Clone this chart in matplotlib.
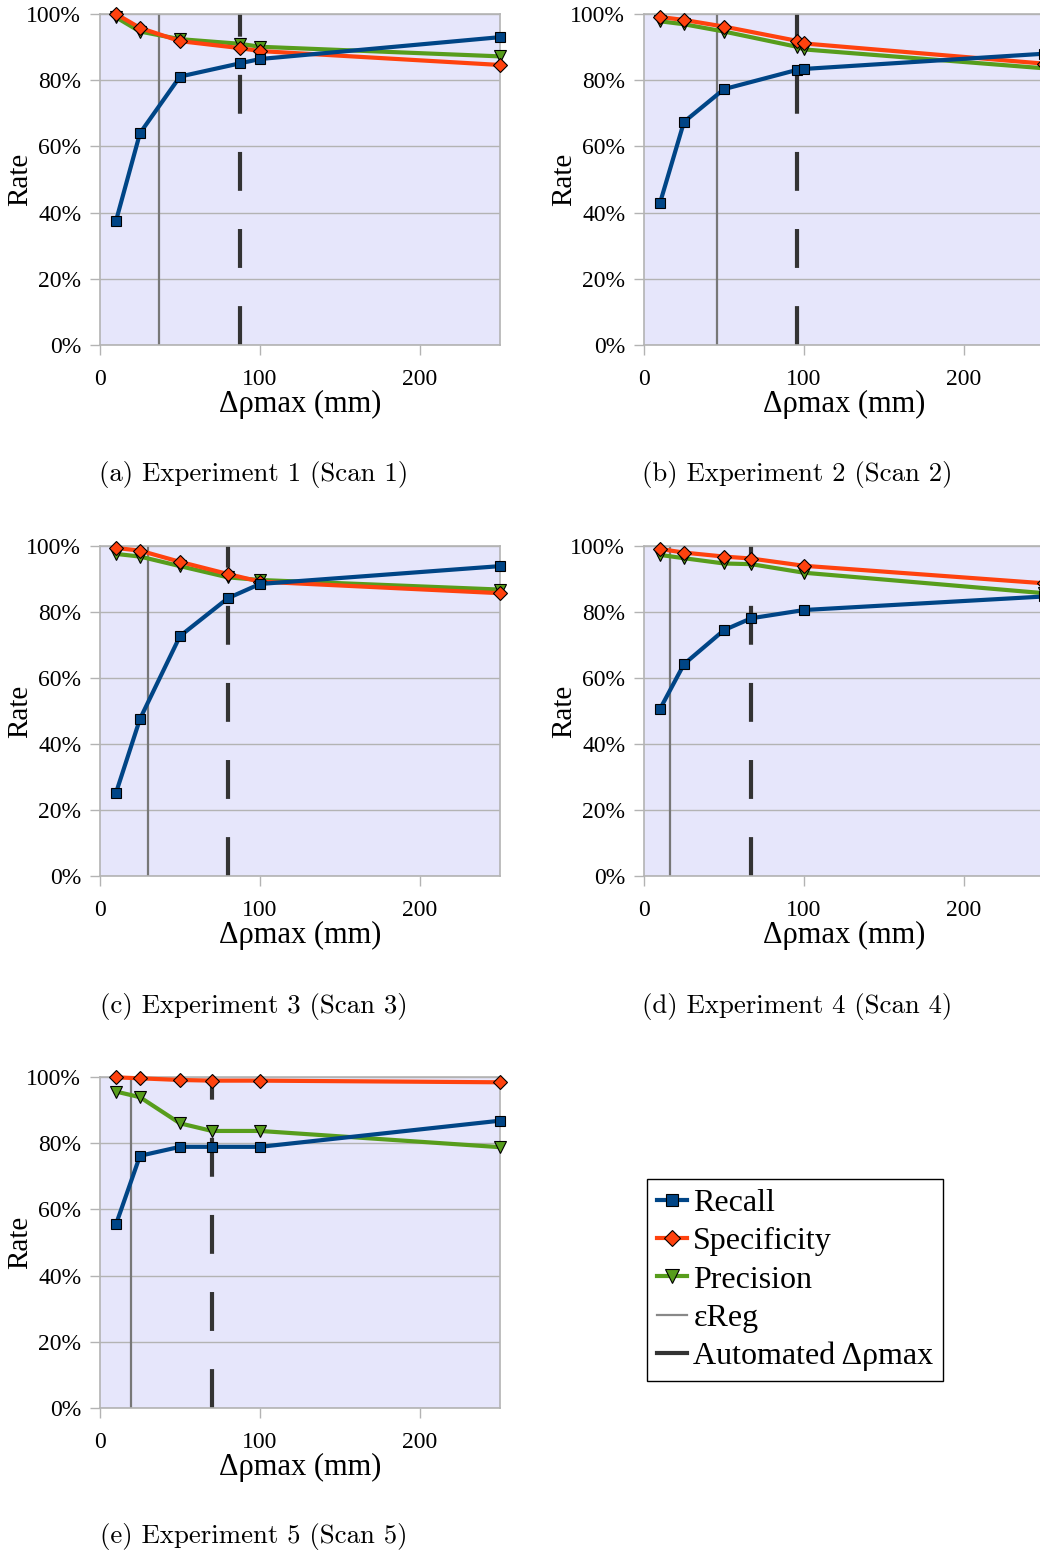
import matplotlib
matplotlib.use("Agg")
import matplotlib.pyplot as plt
from matplotlib.lines import Line2D
from matplotlib.ticker import FuncFormatter

plt.rcParams['lines.scale_dashes'] = False

# ---------------- data ----------------
x_common = [10, 25, 50, 100, 250]
auto_dpmax = [87.5, 95.5, 80, 67, 70]          # automated Δρmax per experiment
ereg = [37, 45.5, 30, 16, 19.6]                 # εReg per experiment

recall = [
    [37.5, 64, 81.1, 85.1, 86.4, 93.0],
    [42.9, 67.4, 77.3, 83.1, 83.4, 88.0],
    [25.2, 47.6, 72.7, 84.2, 88.5, 93.9],
    [50.6, 64.2, 74.5, 78.1, 80.6, 84.7],
    [55.5, 76.2, 78.9, 78.9, 78.9, 86.8],
]
specificity = [
    [100.0, 95.8, 91.8, 89.7, 88.8, 84.6],
    [99.1, 98.2, 96.2, 91.9, 91.1, 85.0],
    [99.4, 98.6, 95.2, 91.5, 89.2, 85.7],
    [99.1, 98.0, 96.8, 96.2, 94.0, 88.7],
    [99.9, 99.6, 99.1, 98.9, 98.9, 98.4],
]
precision = [
    [99.0, 94.7, 92.4, 91.0, 90.1, 87.2],
    [97.8, 96.9, 94.7, 90.1, 89.3, 83.6],
    [97.6, 96.8, 93.9, 90.5, 89.7, 86.8],
    [97.3, 96.3, 94.7, 94.5, 91.9, 85.7],
    [95.6, 93.9, 86.0, 83.7, 83.7, 78.8],
]
captions = ["(a) Experiment 1 (Scan 1)", "(b) Experiment 2 (Scan 2)",
            "(c) Experiment 3 (Scan 3)", "(d) Experiment 4 (Scan 4)",
            "(e) Experiment 5 (Scan 5)"]
series_names = ["Recall", "Specificity", "Precision", "εReg", "Automated Δρmax"]
x_ticks = [0, 100, 200]
y_ticks = [0, 20, 40, 60, 80, 100]

# ---------------- style ----------------
W, H = 1040, 1555
C_REC, C_SPE, C_PRE = "#004586", "#ff420e", "#579d1c"
BG = "#e6e6fb"
GRID = "#b3b3b3"
FONT = "Liberation Serif"
CAPFONT = "cmr10"

fig = plt.figure(figsize=(W / 100, H / 100), dpi=100)

def rect(l, r, t, b):
    return [l / W, 1 - b / H, (r - l) / W, (b - t) / H]

panels = [
    (100, 500, 14, 345),
    (644, 1044, 14, 345),
    (100, 500, 546, 876),
    (644, 1044, 546, 876),
    (100, 500, 1077, 1408),
]
caption_pos = [(254, 474), (797, 474), (254, 1006), (797, 1006), (254, 1537)]

for i, (l, r, t, b) in enumerate(panels):
    ax = fig.add_axes(rect(l, r, t, b))
    ax.set_facecolor(BG)
    xs = sorted(x_common + [auto_dpmax[i]])
    ax.axvline(ereg[i], color="#777777", lw=1.6, zorder=1)
    ax.axvline(auto_dpmax[i], color="#333333", lw=3, dashes=(28, 27.5), zorder=1)
    ax.plot(xs, precision[i], color=C_PRE, lw=3, marker="v", ms=9,
            mfc=C_PRE, mec="black", mew=0.8, zorder=3, clip_on=False)
    ax.plot(xs, specificity[i], color=C_SPE, lw=3, marker="D", ms=7,
            mfc=C_SPE, mec="black", mew=0.8, zorder=4, clip_on=False)
    ax.plot(xs, recall[i], color=C_REC, lw=3, marker="s", ms=7,
            mfc=C_REC, mec="black", mew=0.8, zorder=5, clip_on=False)
    ax.set_xlim(0, 250)
    ax.set_ylim(0, 100)
    ax.set_xticks(x_ticks)
    ax.set_yticks(y_ticks)
    ax.yaxis.set_major_formatter(FuncFormatter(lambda v, p: f"{v:.0f}%"))
    ax.grid(axis="y", color=GRID, lw=1)
    ax.set_axisbelow(True)
    for s in ax.spines.values():
        s.set_color(GRID)
        s.set_linewidth(1.2)
    ax.tick_params(axis="both", color=GRID, length=7.5, width=1,
                   labelsize=17, pad=6)
    ax.tick_params(axis="x", pad=10)
    for lab in ax.get_xticklabels() + ax.get_yticklabels():
        lab.set_fontfamily(FONT)
    ax.set_xlabel("Δρmax (mm)", fontsize=22, family=FONT)
    ax.xaxis.set_label_coords(0.5, -59.0 / (b - t))
    ax.xaxis.label.set_va("center")
    ax.set_ylabel("Rate", fontsize=21, family=FONT)
    ax.yaxis.set_label_coords(-0.2, 0.5)
    ax.yaxis.label.set_va("center")
    cx, cy = caption_pos[i]
    fig.text(cx / W, 1 - cy / H, captions[i], ha="center", va="center",
             fontsize=19.3, family=CAPFONT)

handles = [
    Line2D([], [], color=C_REC, lw=3, marker="s", ms=9, mfc=C_REC, mec="black", mew=0.8),
    Line2D([], [], color=C_SPE, lw=3, marker="D", ms=8, mfc=C_SPE, mec="black", mew=0.8),
    Line2D([], [], color=C_PRE, lw=3, marker="v", ms=10, mfc=C_PRE, mec="black", mew=0.8),
    Line2D([], [], color="#888888", lw=1.6),
    Line2D([], [], color="#333333", lw=3),
]
leg = fig.legend(handles, series_names, loc="upper left",
                 bbox_to_anchor=(647 / W, 1 - 1179 / H), borderaxespad=0,
                 frameon=True, fancybox=False, edgecolor="black", framealpha=1,
                 prop={"family": FONT, "size": 23}, handlelength=0.95,
                 handletextpad=0.2, labelspacing=0.28, borderpad=0.3)
leg.get_frame().set_linewidth(1)

fig.savefig("out.png", dpi=100)
